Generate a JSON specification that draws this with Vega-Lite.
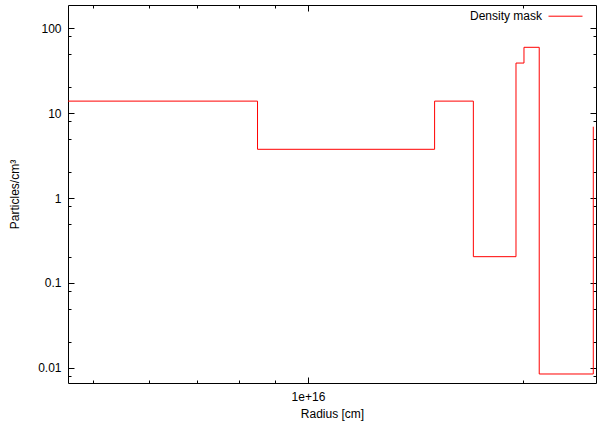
{
  "$schema": "https://vega.github.io/schema/vega-lite/v6.json",
  "width": 528,
  "height": 378,
  "autosize": {"type": "none"},
  "padding": {"left": 68, "top": 5, "right": 4, "bottom": 38},
  "background": "white",
  "config": {
    "view": {"stroke": "black", "strokeWidth": 1},
    "axis": {
      "grid": false, "domain": false, "tickColor": "black", "tickWidth": 1,
      "labelFont": "Liberation Sans", "labelFontSize": 12, "labelColor": "black",
      "titleFont": "Liberation Sans", "titleFontSize": 12, "titleFontWeight": "normal", "titleColor": "black"
    }
  },
  "data": {
    "values": [
      {"r": 4.6e15, "n": 13.8, "s": "Density mask"},
      {"r": 8.50e15, "n": 3.74, "s": "Density mask"},
      {"r": 1.504e16, "n": 13.8, "s": "Density mask"},
      {"r": 1.704e16, "n": 0.204, "s": "Density mask"},
      {"r": 1.955e16, "n": 38.7, "s": "Density mask"},
      {"r": 2.006e16, "n": 59.3, "s": "Density mask"},
      {"r": 2.107e16, "n": 0.0085, "s": "Density mask"},
      {"r": 2.508e16, "n": 6.9, "s": "Density mask"}
    ]
  },
  "layer": [
    {
      "mark": {"type": "line", "interpolate": "step-after", "strokeWidth": 1, "clip": true},
      "encoding": {
        "x": {"field": "r", "type": "quantitative",
          "scale": {"type": "log", "domain": [4.615e15, 2.53e16], "nice": false},
          "axis": {"orient": "bottom", "values": [1e16], "format": ".0e", "tickSize": -6, "labelPadding": 14,
            "title": "Radius [cm]", "titleY": 34, "titleBaseline": "alphabetic"}},
        "y": {"field": "n", "type": "quantitative",
          "scale": {"type": "log", "domain": [0.00666, 186.5], "nice": false},
          "axis": {"orient": "left", "values": [0.01, 0.1, 1, 10, 100], "format": "~g", "tickSize": -6, "labelPadding": 13,
            "title": "Particles/cm³", "titleX": -50, "titleY": 189, "titleAngle": -90, "titleBaseline": "alphabetic"}},
        "color": {"field": "s", "type": "nominal", "scale": {"range": ["#ff0000"]},
          "legend": {"orient": "none", "legendX": 480, "legendY": -6.3, "title": null, "symbolType": "stroke",
            "symbolSize": 1156, "symbolStrokeWidth": 1, "labelFont": "Liberation Sans", "labelFontSize": 12,
            "labelColor": "black", "labelAlign": "right", "labelOffset": -41, "padding": 0}}
      }
    },
    {
      "mark": {"type": "line", "strokeOpacity": 0},
      "encoding": {
        "x": {"field": "r", "type": "quantitative",
          "axis": {"orient": "bottom", "values": [5e15, 6e15, 7e15, 8e15, 9e15, 2e16], "labels": false, "tickSize": -3, "title": null}},
        "y": {"field": "n", "type": "quantitative",
          "axis": {"orient": "left", "values": [0.008, 0.02, 0.05, 0.08, 0.2, 0.5, 0.8, 2, 5, 8, 20, 50, 80], "labels": false, "tickSize": -3, "title": null}}
      }
    },
    {
      "mark": {"type": "line", "strokeOpacity": 0},
      "encoding": {
        "x": {"field": "r", "type": "quantitative",
          "axis": {"orient": "top", "values": [1e16], "labels": false, "tickSize": -6, "title": null}},
        "y": {"field": "n", "type": "quantitative",
          "axis": {"orient": "right", "values": [0.01, 0.1, 1, 10, 100], "labels": false, "tickSize": -6, "title": null}}
      }
    },
    {
      "mark": {"type": "line", "strokeOpacity": 0},
      "encoding": {
        "x": {"field": "r", "type": "quantitative",
          "axis": {"orient": "top", "values": [5e15, 6e15, 7e15, 8e15, 9e15, 2e16], "labels": false, "tickSize": -3, "title": null}},
        "y": {"field": "n", "type": "quantitative",
          "axis": {"orient": "right", "values": [0.008, 0.02, 0.05, 0.08, 0.2, 0.5, 0.8, 2, 5, 8, 20, 50, 80], "labels": false, "tickSize": -3, "title": null}}
      }
    }
  ],
  "resolve": {"axis": {"x": "independent", "y": "independent"}}
}
